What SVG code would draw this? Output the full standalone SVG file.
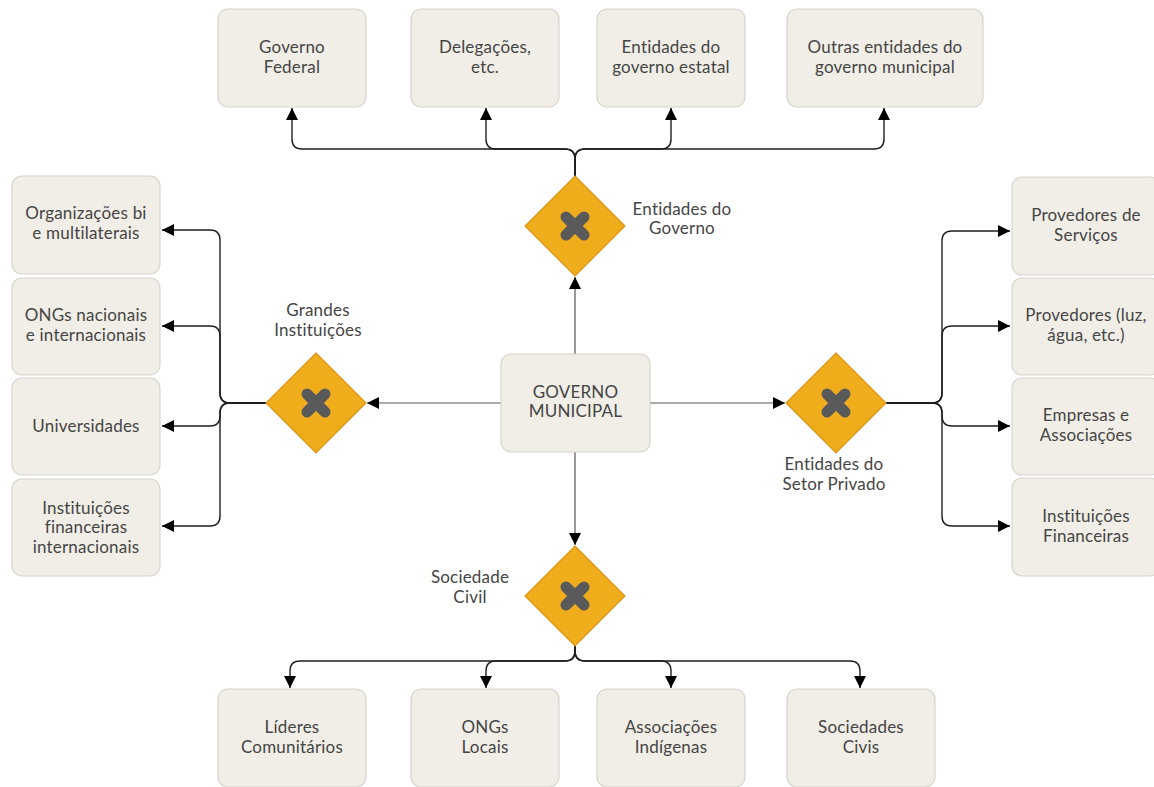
<svg xmlns="http://www.w3.org/2000/svg" width="1154" height="787" viewBox="0 0 1154 787">
<defs>
<style>
.box{fill:#f0eee7;stroke:#d6d4cb;stroke-width:1.2}
.t{font-family:Lato,"Open Sans","Liberation Sans",sans-serif;font-size:17px;letter-spacing:0.2px;fill:#454545;text-anchor:middle}
.dia{fill:#f0ad1b;stroke:#d7951a;stroke-width:1.2}
.x{stroke:#5a5a5a;stroke-width:11;stroke-linecap:round}
.c{fill:none;stroke:#1e1e1e;stroke-width:1.4}
.g{fill:none;stroke:#555;stroke-width:1.2}
</style>
<marker id="ah" markerUnits="userSpaceOnUse" markerWidth="12" markerHeight="12" viewBox="0 0 10 10" refX="10" refY="5" orient="auto">
<path d="M0,0 L10,5 L0,10 z" fill="#000"/>
</marker>
</defs>
<rect width="1154" height="787" fill="#fff"/>

<g id="connectors">
<path class="g" d="M575,354 V277" marker-end="url(#ah)"/>
<path class="g" d="M501,403 H367" marker-end="url(#ah)"/>
<path class="g" d="M650,403 H785" marker-end="url(#ah)"/>
<path class="g" d="M575,452 V545" marker-end="url(#ah)"/>
<path class="c" d="M575,176 V159 Q575,149 565,149 H302 Q292,149 292,139 V108" marker-end="url(#ah)"/>
<path class="c" d="M575,176 V159 Q575,149 565,149 H496 Q486,149 486,139 V108" marker-end="url(#ah)"/>
<path class="c" d="M575,176 V159 Q575,149 585,149 H661 Q671,149 671,139 V108" marker-end="url(#ah)"/>
<path class="c" d="M575,176 V159 Q575,149 585,149 H874 Q884,149 884,139 V108" marker-end="url(#ah)"/>
<path class="c" d="M266,403 H230 Q220,403 220,393 V240 Q220,230 210,230 H162" marker-end="url(#ah)"/>
<path class="c" d="M266,403 H230 Q220,403 220,393 V336 Q220,326 210,326 H162" marker-end="url(#ah)"/>
<path class="c" d="M266,403 H230 Q220,403 220,413 V416 Q220,426 210,426 H162" marker-end="url(#ah)"/>
<path class="c" d="M266,403 H230 Q220,403 220,413 V516 Q220,526 210,526 H162" marker-end="url(#ah)"/>
<path class="c" d="M886,403 H932 Q942,403 942,393 V241 Q942,231 952,231 H1010" marker-end="url(#ah)"/>
<path class="c" d="M886,403 H932 Q942,403 942,393 V336 Q942,326 952,326 H1010" marker-end="url(#ah)"/>
<path class="c" d="M886,403 H932 Q942,403 942,413 V416 Q942,426 952,426 H1010" marker-end="url(#ah)"/>
<path class="c" d="M886,403 H932 Q942,403 942,413 V516 Q942,526 952,526 H1010" marker-end="url(#ah)"/>
<path class="c" d="M575,646 V651 Q575,661 565,661 H300 Q290,661 290,671 V688" marker-end="url(#ah)"/>
<path class="c" d="M575,646 V651 Q575,661 565,661 H496 Q486,661 486,671 V688" marker-end="url(#ah)"/>
<path class="c" d="M575,646 V651 Q575,661 585,661 H661 Q671,661 671,671 V688" marker-end="url(#ah)"/>
<path class="c" d="M575,646 V651 Q575,661 585,661 H850 Q860,661 860,671 V688" marker-end="url(#ah)"/>
</g>

<g id="center">
<rect class="box" x="501" y="354" width="149" height="98" rx="10"/>
<text class="t" x="575.5" y="398">GOVERNO</text>
<text class="t" x="575.5" y="417">MUNICIPAL</text>
</g>

<g id="gw-governo">
<path class="dia" d="M575,176 L625,226 L575,276 L525,226 z"/>
<path class="x" d="M566,217 L584,235 M584,217 L566,235"/>
<text class="t" x="682" y="215">Entidades do</text>
<text class="t" x="682" y="234">Governo</text>
</g>
<g id="gw-grandes">
<path class="dia" d="M316,353 L366,403 L316,453 L266,403 z"/>
<path class="x" d="M307,394 L325,412 M325,394 L307,412"/>
<text class="t" x="318" y="316">Grandes</text>
<text class="t" x="318" y="336">Instituições</text>
</g>
<g id="gw-privado">
<path class="dia" d="M836,353 L886,403 L836,453 L786,403 z"/>
<path class="x" d="M827,394 L845,412 M845,394 L827,412"/>
<text class="t" x="834" y="470">Entidades do</text>
<text class="t" x="834" y="490">Setor Privado</text>
</g>
<g id="gw-civil">
<path class="dia" d="M575,546 L625,596 L575,646 L525,596 z"/>
<path class="x" d="M566,587 L584,605 M584,587 L566,605"/>
<text class="t" x="470" y="583">Sociedade</text>
<text class="t" x="470" y="603">Civil</text>
</g>

<g id="n-federal"><rect class="box" x="218" y="9" width="148" height="98" rx="10"/><text class="t" x="292" y="53">Governo</text><text class="t" x="292" y="73">Federal</text></g>
<g id="n-delegacoes"><rect class="box" x="411" y="9" width="148" height="98" rx="10"/><text class="t" x="485" y="53">Delegações,</text><text class="t" x="485" y="73">etc.</text></g>
<g id="n-estatal"><rect class="box" x="597" y="9" width="148" height="98" rx="10"/><text class="t" x="671" y="53">Entidades do</text><text class="t" x="671" y="73">governo estatal</text></g>
<g id="n-outras"><rect class="box" x="787" y="9" width="196" height="98" rx="10"/><text class="t" x="885" y="53">Outras entidades do</text><text class="t" x="885" y="73">governo municipal</text></g>

<g id="n-organizacoes"><rect class="box" x="12" y="176" width="148" height="98" rx="10"/><text class="t" x="86" y="219">Organizações bi</text><text class="t" x="86" y="239">e multilaterais</text></g>
<g id="n-ongs-nac"><rect class="box" x="12" y="278" width="148" height="97" rx="10"/><text class="t" x="86" y="321">ONGs nacionais</text><text class="t" x="86" y="341">e internacionais</text></g>
<g id="n-universidades"><rect class="box" x="12" y="378" width="148" height="97" rx="10"/><text class="t" x="86" y="432">Universidades</text></g>
<g id="n-inst-fin-int"><rect class="box" x="12" y="479" width="148" height="97" rx="10"/><text class="t" x="86" y="514">Instituições</text><text class="t" x="86" y="533">financeiras</text><text class="t" x="86" y="553">internacionais</text></g>

<g id="n-prov-serv"><rect class="box" x="1012" y="177" width="148" height="98" rx="10"/><text class="t" x="1086" y="221">Provedores de</text><text class="t" x="1086" y="241">Serviços</text></g>
<g id="n-prov-luz"><rect class="box" x="1012" y="278" width="148" height="97" rx="10"/><text class="t" x="1086" y="321">Provedores (luz,</text><text class="t" x="1086" y="341">água, etc.)</text></g>
<g id="n-empresas"><rect class="box" x="1012" y="378" width="148" height="97" rx="10"/><text class="t" x="1086" y="421">Empresas e</text><text class="t" x="1086" y="441">Associações</text></g>
<g id="n-inst-fin"><rect class="box" x="1012" y="478" width="148" height="98" rx="10"/><text class="t" x="1086" y="522">Instituições</text><text class="t" x="1086" y="542">Financeiras</text></g>

<g id="n-lideres"><rect class="box" x="218" y="689" width="148" height="98" rx="10"/><text class="t" x="292" y="733">Líderes</text><text class="t" x="292" y="753">Comunitários</text></g>
<g id="n-ongs-loc"><rect class="box" x="411" y="689" width="148" height="98" rx="10"/><text class="t" x="485" y="733">ONGs</text><text class="t" x="485" y="753">Locais</text></g>
<g id="n-assoc-ind"><rect class="box" x="597" y="689" width="148" height="98" rx="10"/><text class="t" x="671" y="733">Associações</text><text class="t" x="671" y="753">Indígenas</text></g>
<g id="n-soc-civis"><rect class="box" x="787" y="689" width="148" height="98" rx="10"/><text class="t" x="861" y="733">Sociedades</text><text class="t" x="861" y="753">Civis</text></g>
</svg>
